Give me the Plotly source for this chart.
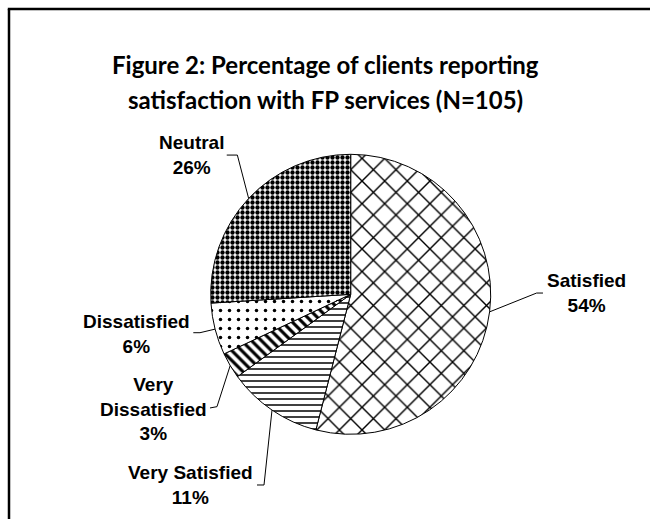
import math
import plotly.graph_objects as go

# ---- data ----
categories = ["Satisfied", "Very Satisfied", "Very Dissatisfied", "Dissatisfied", "Neutral"]
percentages = [54, 11, 3, 6, 26]
label_lines = ["Satisfied", "Very Satisfied", "Very<br>Dissatisfied", "Dissatisfied", "Neutral"]
title_lines = ["Figure 2: Percentage of clients reporting",
               "satisfaction with FP services (N=105)"]

# ---- layout constants (pixels, in page coordinates) ----
FW, FH = 650, 519
CX, CY, R = 350.7, 294.3, 140.0
TITLE_Y = [64, 100]

# leader geometry relative to the slice-edge anchor: elbow, end, label centre
leader_style = {
    "Satisfied":         dict(elbow=(47.0, -18.8), end=(53.4, -18.8), label=(97.0, -18.8)),
    "Very Satisfied":    dict(elbow=(-8.0, 74.9), end=(-15.0, 74.9), label=(-82.0, 75.4)),
    "Very Dissatisfied": dict(elbow=(-13.2, 41.1), end=(-20.2, 42.4), label=(-77.0, 43.9)),
    "Dissatisfied":      dict(elbow=(-15.1, 3.6), end=(-21.8, 3.6), label=(-78.6, 4.4)),
    "Neutral":           dict(elbow=(-11.3, -43.4), end=(-21.9, -43.4), label=(-57.6, -43.4)),
}

pattern = dict(
    shape=["x", "-", "\\", ".", "."],
    size=[16, 6, 7, 9, 5],
    solidity=[0.17, 0.25, 0.45, 0.12, 0.6],
    fgcolor="black",
    bgcolor="white",
)


def px(x):
    return x / FW


def py(y):
    return 1 - y / FH


fig = go.Figure(
    go.Pie(
        labels=categories,
        values=percentages,
        sort=False,
        direction="clockwise",
        rotation=0,
        textinfo="none",
        hoverinfo="label+percent",
        marker=dict(colors=["white"] * 5, line=dict(color="black", width=1), pattern=pattern),
        domain=dict(x=[px(CX - R), px(CX + R)], y=[py(CY + R), py(CY - R)]),
        showlegend=False,
    )
)

shapes = []
annotations = []
total = sum(percentages)
cum = 0.0
for cat, val, txt in zip(categories, percentages, label_lines):
    mid = (cum + val / 2) / total * 2 * math.pi
    cum += val
    ax = CX + R * math.sin(mid)
    ay = CY - R * math.cos(mid)
    st = leader_style[cat]
    ex, ey = ax + st["elbow"][0], ay + st["elbow"][1]
    nx, ny = ax + st["end"][0], ay + st["end"][1]
    path = f"M {px(ax)},{py(ay)} L {px(ex)},{py(ey)} L {px(nx)},{py(ny)}"
    shapes.append(dict(type="path", xref="paper", yref="paper", path=path,
                       line=dict(color="black", width=1)))
    lx, ly = ax + st["label"][0], ay + st["label"][1]
    annotations.append(dict(
        x=px(lx), y=py(ly), xref="paper", yref="paper",
        text=f"<b>{txt}<br>{round(val / total * 100)}%</b>",
        showarrow=False, xanchor="center", yanchor="middle", align="center",
        font=dict(family="Liberation Sans, Arial", size=19, color="black"),
    ))

# chart frame: only its top and left edges fall inside the picture
FRAME = 9
shapes.append(dict(type="line", xref="paper", yref="paper",
                   x0=px(FRAME - 1.2), x1=1.0, y0=py(FRAME), y1=py(FRAME),
                   line=dict(color="black", width=2.5)))
shapes.append(dict(type="line", xref="paper", yref="paper",
                   x0=px(FRAME), x1=px(FRAME), y0=py(FRAME), y1=0.0,
                   line=dict(color="black", width=2.5)))

for line, ty in zip(title_lines, TITLE_Y):
    annotations.append(dict(
        x=px(325), y=py(ty), xref="paper", yref="paper",
        text=f"<b>{line}</b>", showarrow=False,
        xanchor="center", yanchor="middle", align="center",
        font=dict(family="Lato, Noto Sans", size=24, color="black"),
    ))

fig.update_layout(
    width=FW, height=FH,
    margin=dict(l=0, r=0, t=0, b=0),
    paper_bgcolor="white", plot_bgcolor="white",
    shapes=shapes, annotations=annotations,
)

fig.write_html(
    "out.html",
    config={"displayModeBar": False},
    post_script="document.body.style.margin='0';document.body.style.overflow='hidden';",
)
